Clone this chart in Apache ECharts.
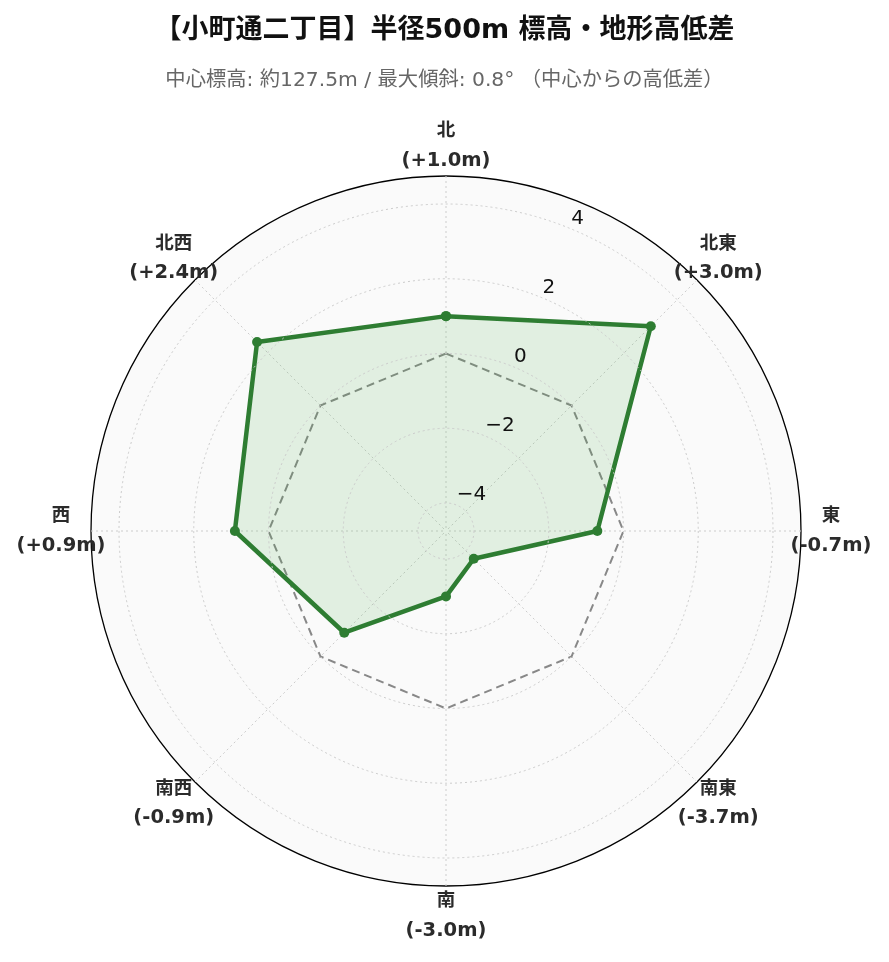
<!DOCTYPE html>
<html><head><meta charset="utf-8">
<script src="https://cdn.jsdelivr.net/npm/echarts@6/dist/echarts.min.js"></script>
<style>html,body{margin:0;padding:0;background:#fff}#c{width:889px;height:962px}</style>
</head><body><div id="c"></div>
<script>
// ---- data ----
const directions = ['北', '北東', '東', '南東', '南', '南西', '西', '北西'];
const directionAngles = [0, 45, 90, 135, 180, 225, 270, 315];
const elevationDiff = [1.0, 3.0, -0.7, -3.7, -3.0, -0.9, 0.9, 2.4];
const zeroRef = [0, 0, 0, 0, 0, 0, 0, 0];
const radialMin = -4, radialMax = 4, radialStep = 2;
const titleText = '【小町通二丁目】半径500m 標高・地形高低差';
const subtitleText = '中心標高: 約127.5m / 最大傾斜: 0.8° （中心からの高低差）';

function closedRing(vals) {
  const pts = vals.map((v, i) => [v, directionAngles[i]]);
  pts.push([vals[0], 360]);
  return pts;
}
function fmtDiff(v) {
  return '(' + (v >= 0 ? '+' : '-') + Math.abs(v).toFixed(1) + 'm)';
}

const LAT = '"DejaVu Sans", "Noto Sans CJK JP", sans-serif';
const center = [446, 531];

const chart = echarts.init(document.getElementById('c'), null, { renderer: 'canvas' });
chart.setOption({
  backgroundColor: '#ffffff',
  animation: false,
  title: [
    { text: titleText, left: 'center', top: 12,
      textStyle: { fontFamily: LAT, fontSize: 27, fontWeight: 'bold', color: '#111' } },
    { text: subtitleText, left: 'center', top: 66,
      textStyle: { fontFamily: LAT, fontSize: 20.3, fontWeight: 'normal', color: '#666' } }
  ],
  polar: [
    { center: center, radius: 355 },          // data + background
    { center: center, radius: [28, 327] },    // grid circles + tick labels
    { center: center, radius: 385 },          // direction labels
    { center: center, radius: 355 }           // spokes
  ],
  angleAxis: [
    { polarIndex: 0, type: 'value', min: 0, max: 360, interval: 45, startAngle: 90, clockwise: true,
      axisLine: { show: true, lineStyle: { color: '#000', width: 1.3 } },
      axisTick: { show: false }, axisLabel: { show: false },
      splitLine: { show: false },
      splitArea: { show: true, areaStyle: { color: ['#fafafa'] } }, z: 0 },
    { polarIndex: 1, type: 'value', min: 0, max: 360, startAngle: 67.5, clockwise: true,
      axisLine: { show: false }, axisTick: { show: false }, axisLabel: { show: false },
      splitLine: { show: false }, splitArea: { show: false } },
    { polarIndex: 2, type: 'value', min: 0, max: 360, startAngle: 90, clockwise: true, show: false },
    { polarIndex: 3, type: 'value', min: 0, max: 360, interval: 45, startAngle: 90, clockwise: true,
      axisLine: { show: false }, axisTick: { show: false }, axisLabel: { show: false },
      splitLine: { show: true, lineStyle: { color: '#cccccc', type: [2, 3], width: 1 } },
      splitArea: { show: false }, z: 1 }
  ],
  radiusAxis: [
    { polarIndex: 0, type: 'value', min: -4.75, max: 4.75,
      axisLine: { show: false }, axisTick: { show: false }, axisLabel: { show: false },
      splitLine: { show: false } },
    { polarIndex: 1, type: 'value', min: radialMin, max: radialMax, interval: radialStep,
      axisLine: { show: false }, axisTick: { show: false },
      splitLine: { show: true, lineStyle: { color: '#cccccc', type: [2, 3], width: 1 } },
      axisLabel: { show: true, margin: 0, align: 'left', verticalAlign: 'bottom',
        fontFamily: LAT, fontSize: 20, color: '#111',
        formatter: v => (v < 0 ? '\u2212' + Math.abs(v) : String(v)) },
      z: 5 },
    { polarIndex: 2, type: 'value', min: 0, max: 1, show: false },
    { polarIndex: 3, type: 'value', min: 0, max: 1,
      axisLine: { show: false }, axisTick: { show: false }, axisLabel: { show: false },
      splitLine: { show: false } }
  ],
  series: [
    { name: 'zero', type: 'line', coordinateSystem: 'polar', polarIndex: 0,
      data: closedRing(zeroRef), symbol: 'none', silent: true, z: 2,
      lineStyle: { color: '#888888', width: 2, type: [8, 5] } },
    { name: 'diff', type: 'line', coordinateSystem: 'polar', polarIndex: 0,
      data: closedRing(elevationDiff), symbol: 'circle', symbolSize: 10, z: 3,
      itemStyle: { color: '#2e7d32' },
      lineStyle: { color: '#2e7d32', width: 4.5 },
      areaStyle: { origin: 'start', color: 'rgba(76,175,80,0.2)' } },
    { name: 'labels', type: 'scatter', coordinateSystem: 'polar', polarIndex: 2,
      data: directions.map((d, i) => [1, directionAngles[i]]),
      symbolSize: 1, itemStyle: { color: 'rgba(0,0,0,0)', opacity: 1 }, z: 6, silent: true,
      label: { show: true, position: 'inside', align: 'center', verticalAlign: 'middle',
        color: '#2b2b2b', textBorderWidth: 0, opacity: 1,
        formatter: p => '{n|' + directions[p.dataIndex] + '}\n{v|' + fmtDiff(elevationDiff[p.dataIndex]) + '}',
        rich: {
          n: { fontFamily: LAT, fontSize: 18.5, fontWeight: 'bold', color: '#2b2b2b', lineHeight: 29, align: 'center' },
          v: { fontFamily: LAT, fontSize: 19.5, fontWeight: 'bold', color: '#2b2b2b', lineHeight: 29, align: 'center' }
        } } }
  ]
});
</script>
</body></html>
